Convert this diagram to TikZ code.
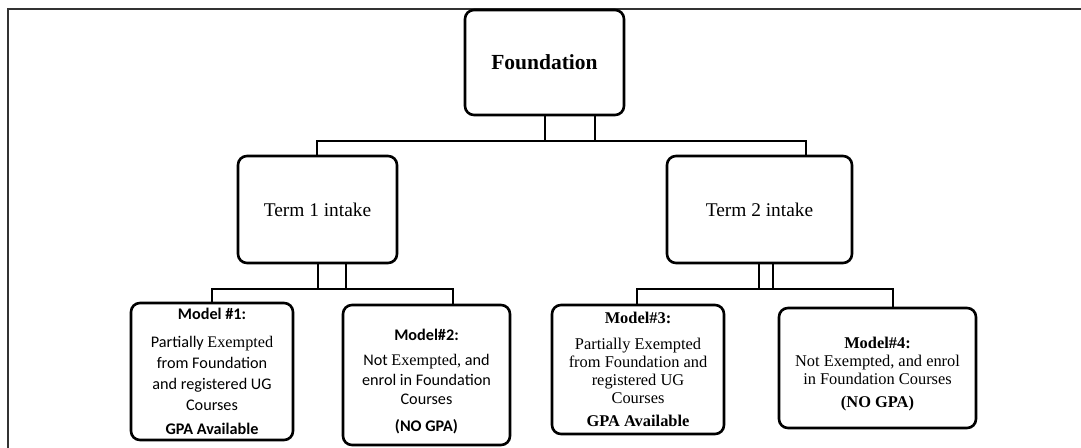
\documentclass[tikz,border=0pt]{standalone}
\usepackage{fontspec}
\setmainfont{Liberation Serif}
\newfontfamily\tmsfont{Liberation Serif}
\newfontfamily\calfont{Carlito}
\begin{document}
\begin{tikzpicture}[x=1bp,y=-1bp,
  box/.style={draw=black,line width=2.6bp,rounded corners=9bp,fill=white,
    align=center,inner sep=0pt,text=black},
  wire/.style={draw=black,line width=1.8bp},
  frame/.style={draw=black!80,line width=2bp}]
\useasboundingbox (0,0) rectangle (1081,448);

% page frame (top and left rules)
\draw[frame] (1081,9) -- (8,9) -- (8,448);

% boxes
\node[box,minimum width=159bp,minimum height=105bp,
  font=\tmsfont\fontsize{21.5bp}{26bp}\selectfont\bfseries] (found) at (544.5,62.5)
  {Foundation};
\node[box,minimum width=159bp,minimum height=107bp,
  font=\tmsfont\fontsize{19.4bp}{23bp}\selectfont] (term1) at (317.5,209.5)
  {Term 1 intake};
\node[box,minimum width=185bp,minimum height=107bp,
  font=\tmsfont\fontsize{19.4bp}{23bp}\selectfont] (term2) at (759.5,209.5)
  {Term 2 intake};

\node[box,minimum width=162bp,minimum height=137bp,
  font=\calfont\fontsize{16.2bp}{21bp}\selectfont] (m1) at (212,371.5)
  {\textbf{Model \#1:}\\[7bp]
   Partially {\tmsfont Exempted}\\
   from Foundation\\
   and registered UG\\
   Courses\\[3bp]
   \textbf{GPA Available}};
\node[box,minimum width=167bp,minimum height=140bp,
  font=\calfont\fontsize{16.2bp}{19.5bp}\selectfont] (m2) at (426.5,375)
  {\rule{0pt}{24bp}\textbf{Model\#2:}\\[6bp]
   Not {\tmsfont Exempted,} and\\
   enrol in Foundation\\
   Courses\\[7bp]
   \textbf{(NO GPA)}};
\node[box,minimum width=172bp,minimum height=129bp,
  font=\tmsfont\fontsize{16.4bp}{18bp}\selectfont] (m3) at (638,369.5)
  {\textbf{Model\#3:}\\[8bp]
   Partially Exempted\\
   from Foundation and\\
   registered UG\\
   Courses\\[5bp]
   \textbf{GPA Available}};
\node[box,minimum width=197bp,minimum height=120bp,
  font=\tmsfont\fontsize{16.4bp}{18bp}\selectfont] (m4) at (877.5,368)
  {\rule{0pt}{24bp}\textbf{Model\#4:}\\
   Not Exempted, and enrol\\
   in Foundation Courses\\[5bp]
   \textbf{(NO GPA)}};

% bus junctions
\coordinate (fa) at (545,141);
\coordinate (fb) at (595,141);
\coordinate (busL) at (317,141);
\coordinate (busR) at (806,141);
\coordinate (t1a) at (318,289);
\coordinate (t1b) at (346,289);
\coordinate (t1L) at (212,289);
\coordinate (t1R) at (453,289);
\coordinate (t2a) at (759,289);
\coordinate (t2b) at (773,289);
\coordinate (t2L) at (637,289);
\coordinate (t2R) at (893,289);

% Foundation to the two intakes
\draw[wire] (fa |- found.south) -- (fa);
\draw[wire] (fb |- found.south) -- (fb);
\draw[wire] (term1.north -| busL) -- (busL) -- (busR) -- (term2.north -| busR);

% Term 1 to models 1 and 2
\draw[wire] (t1a |- term1.south) -- (t1a);
\draw[wire] (t1b |- term1.south) -- (t1b);
\draw[wire] (m1.north -| t1L) -- (t1L) -- (t1R) -- (m2.north -| t1R);

% Term 2 to models 3 and 4
\draw[wire] (t2a |- term2.south) -- (t2a);
\draw[wire] (t2b |- term2.south) -- (t2b);
\draw[wire] (m3.north -| t2L) -- (t2L) -- (t2R) -- (m4.north -| t2R);
\end{tikzpicture}
\end{document}
